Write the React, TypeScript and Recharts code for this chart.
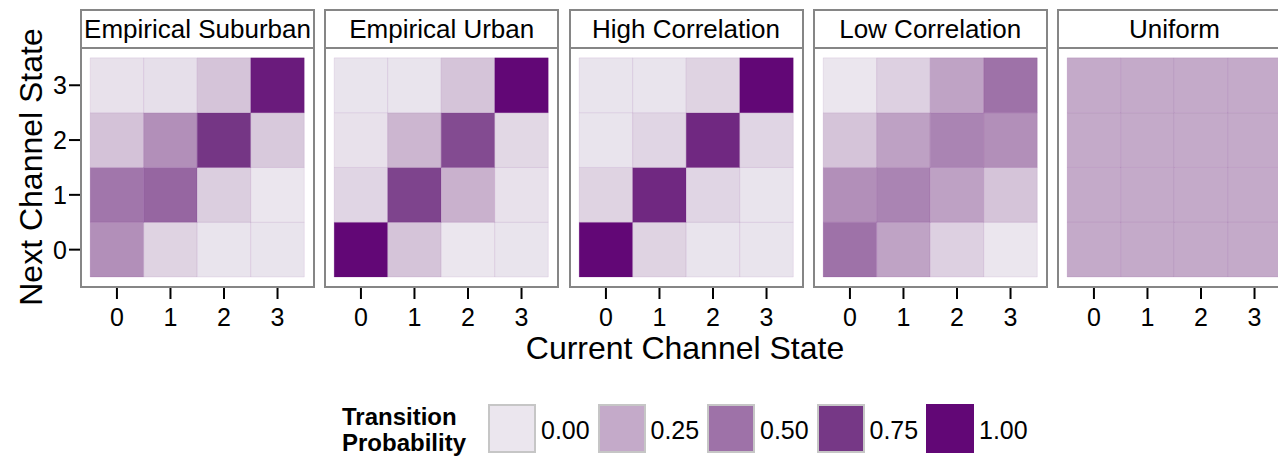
import { ComposedChart, XAxis, YAxis, ReferenceArea, Scatter } from 'recharts'

// transition matrices: row = next state (0..3), column = current state (0..3)
const STATES = [0, 1, 2, 3]

const suburban = [
  [0.37, 0.08, 0.01, 0.01],
  [0.48, 0.55, 0.1, 0.0],
  [0.15, 0.37, 0.76, 0.12],
  [0.02, 0.03, 0.14, 0.9],
]

const urban = [
  [1.0, 0.14, 0.0, 0.01],
  [0.07, 0.7, 0.22, 0.02],
  [0.02, 0.2, 0.67, 0.06],
  [0.01, 0.01, 0.14, 1.0],
]

const highCorr = [
  [1.0, 0.08, 0.01, 0.01],
  [0.08, 0.83, 0.07, 0.01],
  [0.01, 0.07, 0.83, 0.07],
  [0.01, 0.01, 0.08, 1.0],
]

const lowCorr = [
  [0.5, 0.28, 0.09, 0.0],
  [0.37, 0.42, 0.29, 0.14],
  [0.14, 0.29, 0.42, 0.37],
  [0.0, 0.09, 0.28, 0.5],
]

const uniform = [
  [0.25, 0.25, 0.25, 0.25],
  [0.25, 0.25, 0.25, 0.25],
  [0.25, 0.25, 0.25, 0.25],
  [0.25, 0.25, 0.25, 0.25],
]

const PANEL_NAMES = ['Empirical Suburban', 'Empirical Urban', 'High Correlation', 'Low Correlation', 'Uniform']
const PANEL_DATA = [suburban, urban, highCorr, lowCorr, uniform]

const LEGEND_VALUES = [0, 0.25, 0.5, 0.75, 1]
// fill colours at the legend breaks
const LEGEND_COLORS = ['#ebe6ee', '#c4aac9', '#9e72a8', '#763886', '#620776']

const PURPLE = '#620776'
const FRAME = '#868686'
const FONT = '"Liberation Sans", Arial, Helvetica, sans-serif'

function hexToRgb(h: string) {
  const n = parseInt(h.slice(1), 16)
  return [(n >> 16) & 255, (n >> 8) & 255, n & 255]
}

// piecewise-linear colour scale through the legend breaks
function fillFor(p: number) {
  const t = Math.max(0, Math.min(1, p)) * (LEGEND_COLORS.length - 1)
  const i = Math.min(Math.floor(t), LEGEND_COLORS.length - 2)
  const f = t - i
  const a = hexToRgb(LEGEND_COLORS[i])
  const b = hexToRgb(LEGEND_COLORS[i + 1])
  const c = a.map((v, k) => Math.round(v + (b[k] - v) * f))
  return `rgb(${c[0]},${c[1]},${c[2]})`
}

const PANEL_W = 235
const PANEL_TOP = 48
const PLOT_H = 240
const AXIS_H = 50
const Y_AXIS_W = 80
const panelLeft = (i: number) => 80 + i * 244.25

function toCells(m: number[][]) {
  const cells: { x: number; y: number; p: number }[] = []
  m.forEach((row, y) => row.forEach((p, x) => cells.push({ x, y, p })))
  return cells
}

function Panel({ index }: { index: number }) {
  const first = index === 0
  const cells = toCells(PANEL_DATA[index])
  const left = panelLeft(index)
  const chartLeft = first ? left - Y_AXIS_W : left
  const tickStyle = { fill: '#000', fontSize: 25 }
  return (
    <>
      <div style={{ position: 'absolute', left: chartLeft, top: PANEL_TOP }}>
        <ComposedChart
          width={PANEL_W + (first ? Y_AXIS_W : 0)}
          height={PLOT_H + AXIS_H}
          data={cells}
          margin={{ top: 0, right: 0, bottom: 0, left: 0 }}
        >
          <XAxis
            type="number"
            dataKey="x"
            domain={[-0.69, 3.7]}
            ticks={STATES}
            interval={0}
            allowDataOverflow
            axisLine={false}
            tickSize={11}
            tickMargin={9}
            tickLine={{ stroke: '#000', strokeWidth: 2 }}
            tick={tickStyle}
            height={AXIS_H}
          />
          <YAxis
            type="number"
            dataKey="y"
            domain={[-0.7, 3.68]}
            ticks={STATES}
            interval={0}
            allowDataOverflow
            hide={!first}
            width={Y_AXIS_W}
            axisLine={false}
            tickSize={11}
            tickMargin={2}
            tickLine={{ stroke: '#000', strokeWidth: 2 }}
            tick={tickStyle}
          />
          {cells.map((c) => (
            <ReferenceArea
              key={`${c.x}-${c.y}`}
              x1={c.x - 0.5}
              x2={c.x + 0.5}
              y1={c.y - 0.5}
              y2={c.y + 0.5}
              fill={fillFor(c.p)}
              fillOpacity={1}
              stroke={PURPLE}
              strokeOpacity={0.08 + 0.1 * c.p}
              strokeWidth={1}
              ifOverflow="visible"
            />
          ))}
          <Scatter dataKey="y" isAnimationActive={false} shape={() => <g />} />
        </ComposedChart>
      </div>
      {/* strip */}
      <div
        style={{
          position: 'absolute',
          left,
          top: 9,
          width: PANEL_W,
          height: 40,
          boxSizing: 'border-box',
          border: `2px solid ${FRAME}`,
          background: '#fff',
          display: 'flex',
          alignItems: 'center',
          justifyContent: 'center',
          fontSize: 26,
          whiteSpace: 'nowrap',
          color: '#000',
        }}
      >
        {PANEL_NAMES[index]}
      </div>
      {/* panel frame */}
      <div
        style={{
          position: 'absolute',
          left,
          top: PANEL_TOP - 1,
          width: PANEL_W,
          height: PLOT_H + 1,
          boxSizing: 'border-box',
          border: `2px solid ${FRAME}`,
          pointerEvents: 'none',
        }}
      />
    </>
  )
}

export default function App() {
  return (
    <div
      style={{
        position: 'absolute',
        left: 0,
        top: 0,
        width: 1278,
        height: 458,
        overflow: 'hidden',
        background: '#fff',
        fontFamily: FONT,
      }}
    >
      {PANEL_NAMES.map((_, i) => (
        <Panel key={i} index={i} />
      ))}

      {/* axis titles */}
      <div
        style={{
          position: 'absolute',
          left: 685,
          top: 348,
          transform: 'translate(-50%, -50%)',
          fontSize: 32,
          whiteSpace: 'nowrap',
        }}
      >
        Current Channel State
      </div>
      <div
        style={{
          position: 'absolute',
          left: 31,
          top: 167,
          transform: 'translate(-50%, -50%) rotate(-90deg)',
          fontSize: 32,
          whiteSpace: 'nowrap',
        }}
      >
        Next Channel State
      </div>

      {/* legend */}
      <div
        style={{
          position: 'absolute',
          left: 342,
          top: 404,
          fontSize: 24,
          fontWeight: 'bold',
          lineHeight: '26px',
        }}
      >
        Transition
        <br />
        Probability
      </div>
      {LEGEND_VALUES.map((v, i) => (
        <div key={v}>
          <div
            style={{
              position: 'absolute',
              left: 488 + i * 109.5,
              top: 404,
              width: 48,
              height: 49,
              boxSizing: 'border-box',
              border: `2px solid ${v === 1 ? fillFor(v) : '#c6c6c6'}`,
              background: fillFor(v),
            }}
          />
          <div
            style={{
              position: 'absolute',
              left: 541 + i * 109.5,
              top: 430,
              transform: 'translateY(-50%)',
              fontSize: 25,
            }}
          >
            {v.toFixed(2)}
          </div>
        </div>
      ))}
    </div>
  )
}
